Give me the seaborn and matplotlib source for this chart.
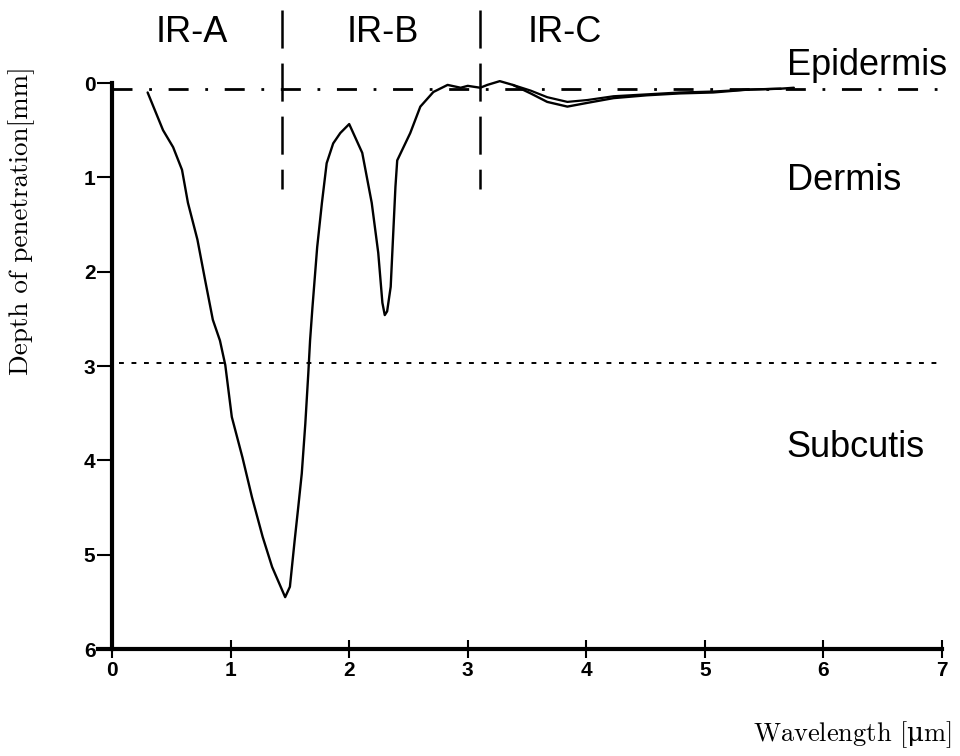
import matplotlib
matplotlib.use("Agg")
import matplotlib.pyplot as plt
import seaborn as sns
import pandas as pd

# Penetration depth of infrared radiation into skin
wavelength_um = [0.30, 0.43, 0.515, 0.59, 0.64, 0.72, 0.785, 0.85, 0.91, 0.955,
                 1.01, 1.10, 1.18, 1.27, 1.35, 1.46, 1.50, 1.54, 1.57, 1.60,
                 1.63, 1.655, 1.67, 1.69, 1.73, 1.77, 1.81, 1.865, 1.925, 2.00,
                 2.11, 2.19, 2.245, 2.28, 2.30, 2.32, 2.35, 2.39, 2.405, 2.515,
                 2.60, 2.71, 2.83, 2.94, 3.00, 3.105, 3.165, 3.27, 3.38, 3.53,
                 3.67, 3.84, 4.01, 4.23, 4.51, 4.79, 5.07, 5.36, 5.64, 5.75]
depth_mm = [0.10, 0.50, 0.68, 0.92, 1.27, 1.66, 2.09, 2.51, 2.73, 2.99,
            3.54, 3.97, 4.39, 4.81, 5.13, 5.45, 5.34, 4.85, 4.50, 4.14,
            3.61, 3.08, 2.73, 2.38, 1.74, 1.27, 0.85, 0.64, 0.53, 0.435,
            0.74, 1.27, 1.80, 2.33, 2.46, 2.42, 2.16, 1.10, 0.82, 0.53,
            0.25, 0.095, 0.02, 0.05, 0.03, 0.05, 0.02, -0.02, 0.02, 0.11,
            0.20, 0.25, 0.21, 0.16, 0.13, 0.11, 0.10, 0.07, 0.06, 0.05]

# second trace of the IR-C tail
tail_wavelength_um = [3.38, 3.53, 3.67, 3.84, 4.01, 4.23, 4.51, 4.79, 5.07, 5.36, 5.64]
tail_depth_mm = [0.02, 0.08, 0.15, 0.20, 0.18, 0.14, 0.12, 0.10, 0.09, 0.07, 0.06]

band_edges = [1.43, 3.10]
band_labels = ["IR-A", "IR-B", "IR-C"]
band_label_x = [0.67, 2.28, 3.82]

epidermis_depth = 0.06
subcutis_depth = 2.97
layer_labels = ["Epidermis", "Dermis", "Subcutis"]
layer_label_depth = [-0.19, 1.03, 3.86]

x_ticks = [0, 1, 2, 3, 4, 5, 6, 7]
y_ticks = [0, 1, 2, 3, 4, 5, 6]

sns.set_theme(style="white")
plt.rcParams["lines.scale_dashes"] = False
plt.rcParams["font.family"] = ["Liberation Sans", "DejaVu Sans"]
plt.rcParams["text.color"] = "black"
plt.rcParams["mathtext.fontset"] = "custom"
plt.rcParams["mathtext.rm"] = "DejaVu Serif"

fig = plt.figure(figsize=(9.6, 7.56), dpi=100)
ax = fig.add_axes([0.1019, 0.1415, 0.8794, 0.8485])

curve = pd.DataFrame({"wavelength": wavelength_um, "depth": depth_mm})
tail = pd.DataFrame({"wavelength": tail_wavelength_um, "depth": tail_depth_mm})
sns.lineplot(data=curve, x="wavelength", y="depth", sort=False, estimator=None,
             color="black", linewidth=1.7, ax=ax)
sns.lineplot(data=tail, x="wavelength", y="depth", sort=False, estimator=None,
             color="black", linewidth=1.6, ax=ax)

# layer boundaries
ax.plot([0, 7.0], [epidermis_depth, epidermis_depth], color="black", lw=2.0,
        linestyle=(0, (14.4, 12.0, 2.0, 12.0)))
ax.plot([0.06, 7.0], [subcutis_depth, subcutis_depth], color="black", lw=1.4,
        linestyle=(0, (3.5, 5.5)))

# band boundaries
for xe in band_edges:
    ax.plot([xe, xe], [-0.77, 1.12], color="black", lw=1.8,
            linestyle=(0, (27.4, 10.8)))

for lab, xl in zip(band_labels, band_label_x):
    ax.text(xl, -0.54, lab, ha="center", va="center", fontsize=26,
            color="black")
for lab, yl in zip(layer_labels, layer_label_depth):
    ax.text(5.69, yl, lab, ha="left", va="center", fontsize=26, color="black")

# spines first: repositioning a spine resets its axis styling
for side in ("top", "right"):
    ax.spines[side].set_visible(False)
ax.spines["left"].set_position(("data", 0))
ax.spines["left"].set_bounds(0, 6)
ax.spines["left"].set_linewidth(3)
ax.spines["bottom"].set_linewidth(3)
ax.spines["left"].set_color("black")
ax.spines["bottom"].set_color("black")

ax.set_xlim(-0.12, 7.0)
ax.set_ylim(6.0, -0.8)
ax.set_xticks(x_ticks)
ax.set_yticks(y_ticks)
ax.set_xticklabels([str(v) for v in x_ticks], fontweight="bold", fontsize=15)
ax.set_yticklabels([str(v) for v in y_ticks], fontweight="bold", fontsize=15)
ax.tick_params(axis="x", direction="inout", length=13, width=1.5, pad=2,
               colors="black", bottom=True)
ax.tick_params(axis="y", direction="out", length=11, width=1.5, pad=1,
               colors="black", left=True)
ax.set_xlabel("")
ax.set_ylabel("")
ax.patch.set_alpha(0)

serif = ["cmr10", "DejaVu Serif"]
fig.text(22 / 960, 1 - 221 / 756, "Depth of penetration[mm]", rotation=90,
         ha="center", va="center", fontsize=19.5, family=serif, color="black")
fig.text(952 / 960, 1 - 735 / 756, r"Wavelength [$\mathrm{\mu}$m]", ha="right",
         va="center", fontsize=19, family=serif, color="black")

fig.savefig("out.png", dpi=100)
